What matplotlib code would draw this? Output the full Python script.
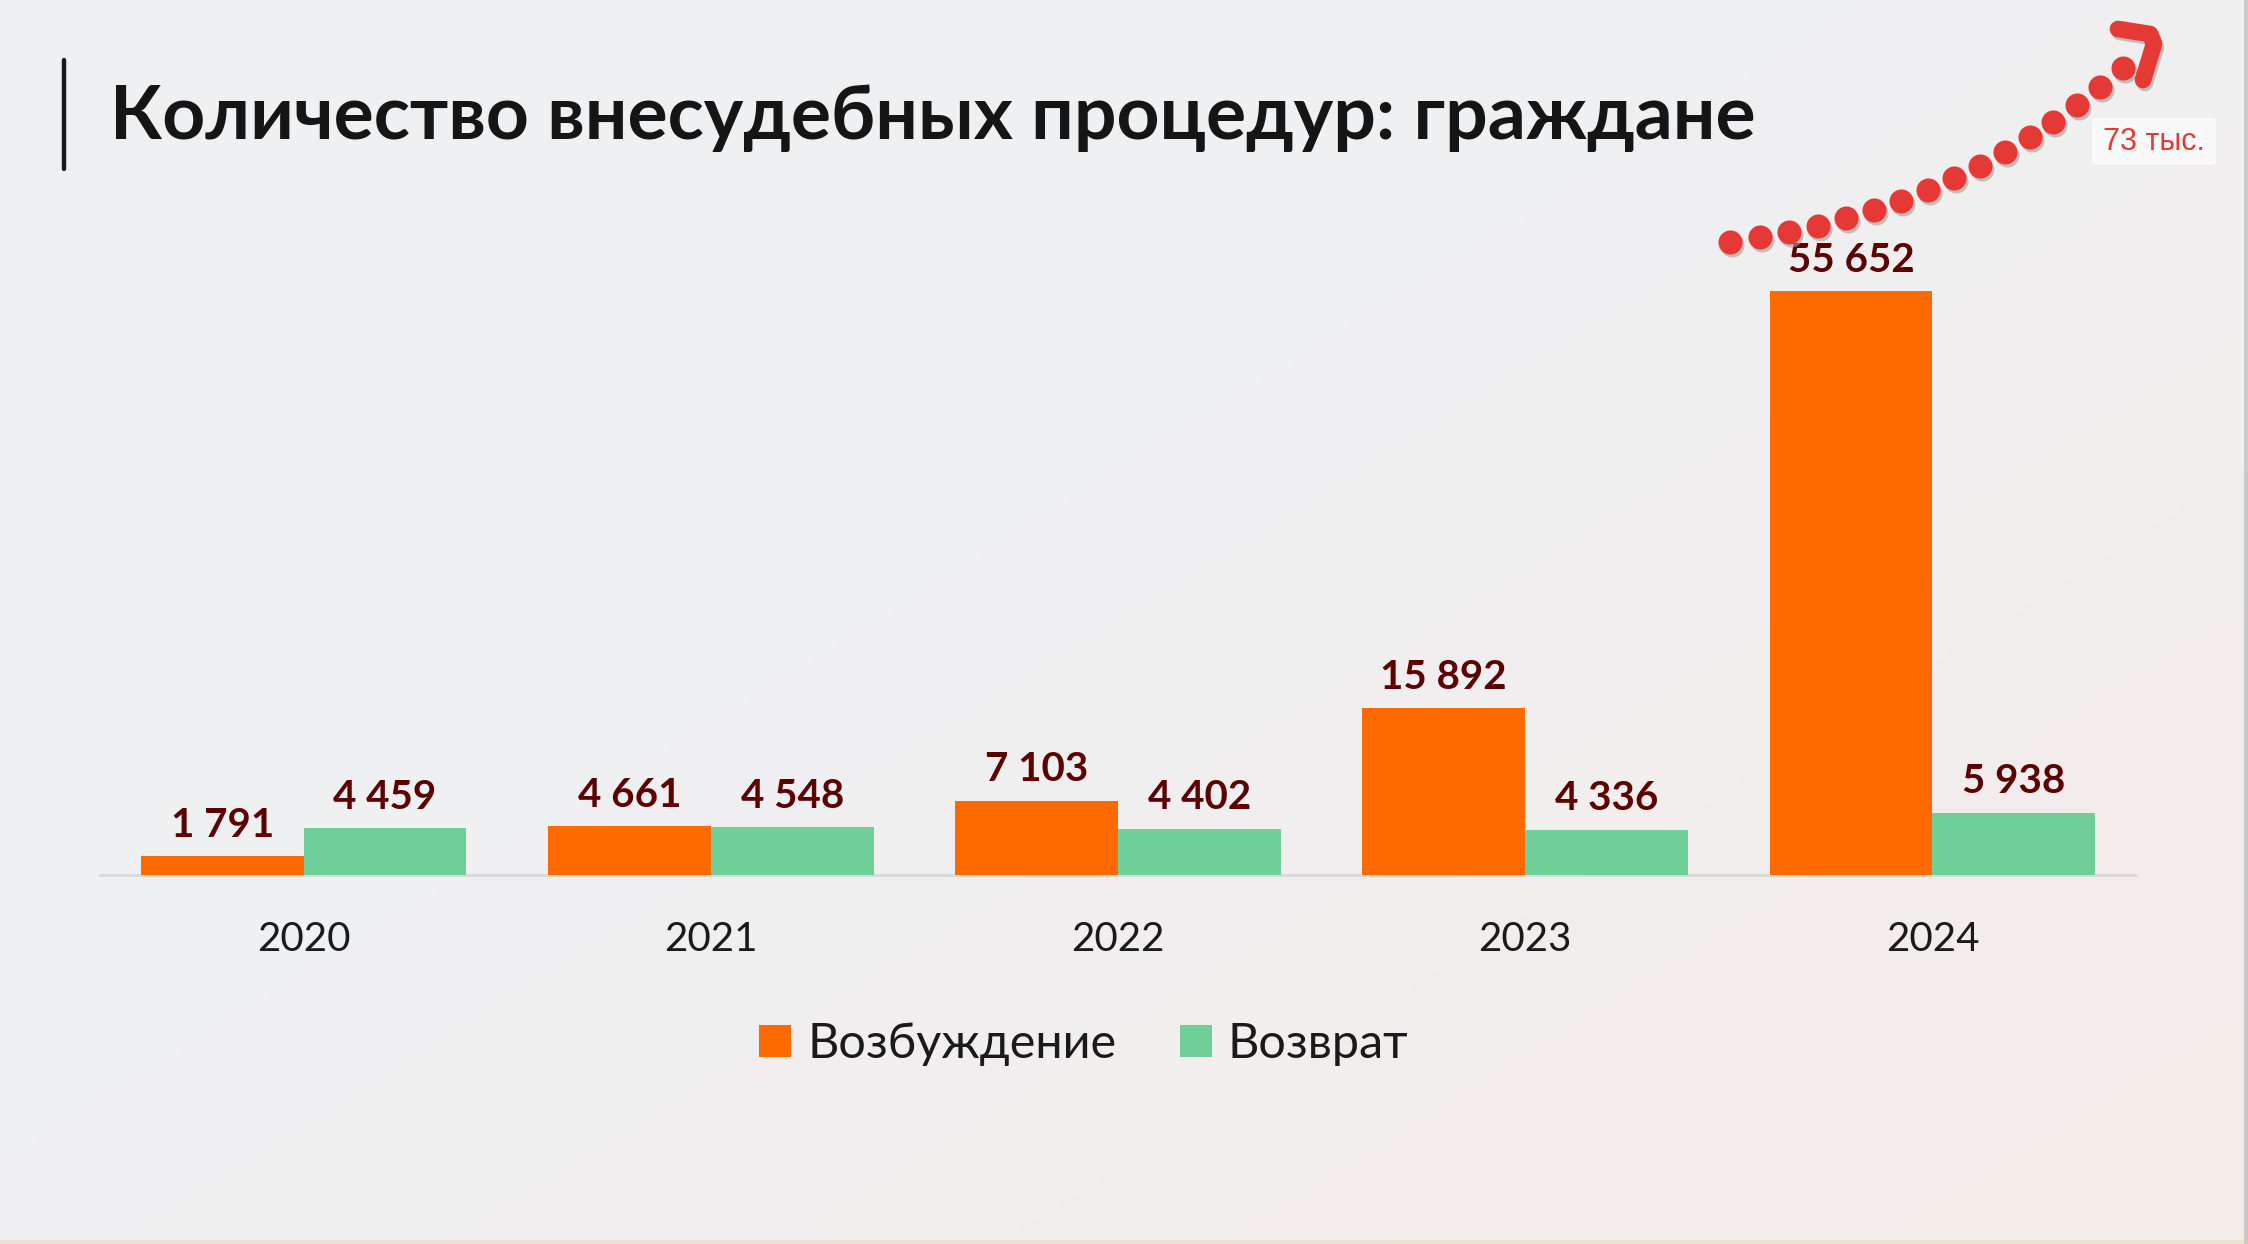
import numpy as np
import matplotlib
matplotlib.use("Agg")
import matplotlib.pyplot as plt
from matplotlib.patches import Rectangle, FancyBboxPatch
from matplotlib.lines import Line2D

# ---- data ----
years = ["2020", "2021", "2022", "2023", "2024"]
vozbuzhdenie = [1791, 4661, 7103, 15892, 55652]
vozvrat = [4459, 4548, 4402, 4336, 5938]
series_names = ["Возбуждение", "Возврат"]
title = "Количество внесудебных процедур: граждане"
forecast_label = "73 тыс."

# ---- styles ----
C_ORANGE = "#ff6a00"
C_GREEN = "#70cf98"
C_LABEL = "#5c0000"
C_RED = "#e53935"
BG = "#eff0f2"

W, H = 2248, 1244
fig = plt.figure(figsize=(W / 100, H / 100), dpi=100)
fig.patch.set_facecolor(BG)

# background gradient (slightly pinkish toward the lower right)
bg_ax = fig.add_axes([0, 0, 1, 1], zorder=-10)
yy, xx = np.mgrid[0:1:200j, 0:1:360j]
t = np.clip((xx * 0.9 + yy * 0.8 - 0.75) / 0.9, 0, 1)
c0 = np.array(matplotlib.colors.to_rgb(BG))
c1 = np.array(matplotlib.colors.to_rgb("#f4ece9"))
img = c0[None, None, :] * (1 - t[..., None]) + c1[None, None, :] * t[..., None]
bg_ax.imshow(img, extent=[0, 1, 0, 1], origin="upper", aspect="auto")
bg_ax.set_xlim(0, 1)
bg_ax.set_ylim(0, 1)
bg_ax.axis("off")

# ---- main chart ----
ax = fig.add_axes([100 / W, 1 - 875 / H, 2036 / W, 734 / H])
ax.set_facecolor("none")
x = np.arange(len(years))
bw = 0.4
b1 = ax.bar(x - bw / 2, vozbuzhdenie, bw, color=C_ORANGE, label=series_names[0], zorder=3)
b2 = ax.bar(x + bw / 2, vozvrat, bw, color=C_GREEN, label=series_names[1], zorder=3)

ax.set_xlim(-0.5, len(years) - 0.5)
ax.set_ylim(0, 70000)
ax.set_xticks(x)
ax.set_xticklabels(years, fontsize=29, family="Lato", color="#1a1a1a")
ax.tick_params(axis="x", length=0, pad=33)
ax.set_yticks([])
for s in ["top", "right", "left"]:
    ax.spines[s].set_visible(False)
ax.spines["bottom"].set_color("#d9d9d9")
ax.spines["bottom"].set_linewidth(2)


def fmt(v):
    return f"{v:,}".replace(",", " ")


for bars, vals in ((b1, vozbuzhdenie), (b2, vozvrat)):
    for rect, v in zip(bars, vals):
        ax.annotate(fmt(v), (rect.get_x() + rect.get_width() / 2, rect.get_height()),
                    xytext=(0, 9), textcoords="offset points", ha="center", va="bottom",
                    fontsize=29, fontweight="bold", family="Lato", color=C_LABEL, zorder=5)

fig.legend(handles=[b1, b2], labels=series_names, loc="center",
           bbox_to_anchor=(1084 / W, 1 - 1044 / H), ncol=2, frameon=False,
           prop={"family": "Lato", "size": 35}, handlelength=0.66, handleheight=0.66,
           handletextpad=0.33, columnspacing=1.3, labelcolor="#1a1a1a")

# ---- overlay in pixel coordinates for title & decoration ----
ov = fig.add_axes([0, 0, 1, 1], zorder=10)
ov.set_xlim(0, W)
ov.set_ylim(H, 0)
ov.axis("off")
ov.patch.set_alpha(0)

ov.add_line(Line2D([64, 64], [60, 169], color="#1a1a1a", lw=3.2, solid_capstyle="round"))
ov.text(110, 139, title, fontsize=54, fontweight="bold", family="Lato",
        color="#151515", va="baseline", ha="left")

# dotted growth arrow
dots_x = [1730, 1760, 1789, 1818, 1846, 1874, 1901, 1928, 1954, 1980, 2005, 2030, 2053, 2077, 2100, 2123]
dots_y = [242, 237, 232, 226, 218, 210, 201, 190, 178, 166, 152, 137, 122, 105, 87, 68]
ov.scatter(np.array(dots_x) + 2, np.array(dots_y) + 3, s=300, color="#9e9e9e", alpha=0.6, lw=0, zorder=1)
ov.scatter(dots_x, dots_y, s=300, color=C_RED, lw=0, zorder=2)
hx = [2118, 2150, 2154, 2143]
hy = [29, 34, 44, 80]
ov.plot(np.array(hx) + 2, np.array(hy) + 3, color="#9e9e9e", alpha=0.6, lw=12,
        solid_capstyle="round", solid_joinstyle="round", zorder=1)
ov.plot(hx, hy, color=C_RED, lw=12, solid_capstyle="round", solid_joinstyle="round", zorder=2)

ov.add_patch(FancyBboxPatch((2092, 118), 124, 47, boxstyle="round,pad=0,rounding_size=4",
                            facecolor="#f9f9fa", edgecolor="none", zorder=3))
ov.text(2154, 142, forecast_label, fontsize=22, family="Liberation Sans", color=C_RED,
        ha="center", va="center", zorder=4)

# slide borders
ov.add_patch(Rectangle((W - 4, 0), 4, H, color="#c9c9c9", lw=0))
ov.add_patch(Rectangle((0, H - 4), W - 4, 4, color="#efe1cf", lw=0))

fig.savefig("out.png", dpi=100, facecolor=fig.get_facecolor())
